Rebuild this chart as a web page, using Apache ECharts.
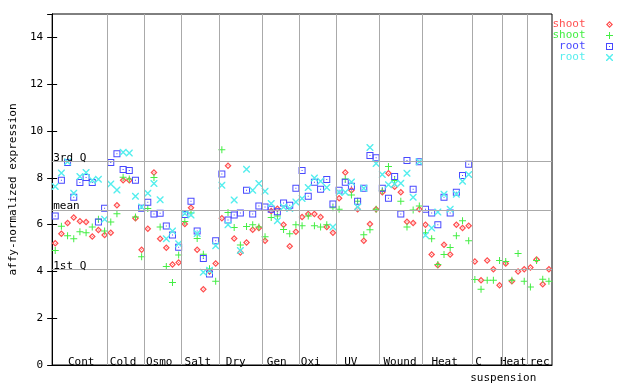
<!DOCTYPE html>
<html>
<head>
<meta charset="utf-8">
<script src="https://cdn.jsdelivr.net/npm/echarts@6/dist/echarts.min.js"></script>
<style>html,body{margin:0;padding:0;background:#fff}#c{width:640px;height:384px}</style>
</head>
<body>
<div id="c"></div>
<script>
// ---------- data ----------
const groupNames = ['Cont','Cold','Osmo','Salt','Dry','Gen','Oxi','UV','Wound','Heat','C','Heat','rec'];
const groupSizes = [9,6,6,6,7,6,6,7,7,8,5,4,4];
const subLabel = 'suspension';
const yTickValues = [0,2,4,6,8,10,12,14];
const refLineNames = ['3rd Q','mean','1st Q'];
const refLineValues = [8.69, 6.62, 4.09];
const seriesNames = ['shoot','shoot','root','root'];

const shootDiamond = [5.20,5.61,6.07,6.30,6.14,6.11,5.49,5.77,5.56,
 5.65,6.83,7.89,7.89,6.27,4.93,
 5.82,8.23,5.39,5.01,4.30,4.38,
 6.03,6.72,4.93,3.24,4.00,4.34,
 6.27,8.52,5.41,4.81,5.23,5.78,5.85,
 5.31,6.58,6.68,5.99,5.07,5.69,
 6.33,6.45,6.45,6.33,5.90,5.65,
 7.13,8.23,7.47,6.66,5.31,6.03,6.66,
 7.38,8.19,7.62,7.38,6.12,6.07,6.66,
 5.99,4.72,4.26,5.14,4.72,5.99,5.86,5.95,
 4.42,3.62,4.47,4.09,3.41,
 4.34,3.58,4.00,4.09,
 4.17,4.51,3.45,4.09];
const shootPlus = [4.89,5.93,5.52,5.39,5.69,5.65,5.90,6.23,5.73,
 6.11,6.46,8.02,7.95,6.33,4.63,
 6.69,8.01,5.90,4.21,3.53,4.70,
 6.13,6.50,5.41,4.73,4.11,3.58,
 9.20,6.52,5.88,5.13,5.92,5.99,5.90,
 5.48,6.30,6.37,5.79,5.61,5.99,
 5.95,6.37,5.95,5.90,5.99,6.72,
 6.66,7.95,7.26,7.00,5.57,5.78,6.66,
 7.45,8.48,7.88,7.00,5.90,6.62,6.79,
 5.65,5.40,4.30,4.72,5.02,5.52,6.16,5.31,
 3.65,3.24,3.62,3.62,4.47,
 4.42,3.62,4.76,3.58,
 3.33,4.47,3.66,3.58];
const rootSquare = [6.37,7.89,8.65,7.17,7.80,8.01,7.80,6.11,6.70,
 8.65,9.03,8.36,8.31,7.89,6.70,
 6.96,6.45,6.49,5.94,5.56,5.03,
 6.43,7.00,5.73,4.55,3.89,5.31,
 8.16,6.20,6.41,6.50,7.47,6.45,6.79,
 6.75,6.66,6.55,6.92,6.83,7.55,
 8.31,7.21,7.81,7.51,7.93,6.88,
 7.47,7.81,7.64,7.00,7.55,8.95,8.86,
 7.55,7.13,8.06,6.45,8.74,7.51,8.69,
 6.66,6.50,5.99,7.17,6.50,7.38,8.10,8.58,
 null,null,null,null,null,
 null,null,null,null,
 null,null,null,null];
const rootCross = [7.63,8.20,8.69,7.34,8.06,8.23,7.89,7.94,6.23,
 7.73,7.48,9.09,9.06,7.21,6.75,
 7.34,7.76,7.06,5.39,5.73,5.18,
 6.47,6.41,5.62,3.96,4.05,5.10,
 7.68,5.99,7.05,4.89,8.37,7.47,7.76,
 7.43,6.90,6.16,6.75,6.69,6.97,
 7.12,7.59,7.99,7.85,7.59,5.90,
 7.38,7.38,7.82,6.75,7.55,9.29,8.61,
 8.14,7.70,7.74,7.77,8.19,7.17,8.69,
 5.54,5.86,6.54,7.30,6.66,7.30,7.85,8.14,
 null,null,null,null,null,
 null,null,null,null,
 null,null,null,null];

// ---------- layout / style ----------
const labelPos = [4.7, 11.5, 17.35, 23.6, 29.76, 36.4, 41.9, 48.4, 56.36, 63.6, 69.1, 74.7, 79.0];
const subLabelPos = 73.1;
const FONT = 'DejaVu Sans Mono';
const colors = ['#ff5050', '#44ee44', '#4848ff', '#55eeee'];
const symbols = [
  'path://M4,0L8,4L4,8L0,4Z M4,2L2,4L4,6L6,4Z M3.5,3.5h1v1h-1z',
  'path://M3,0h1v7h-1z M0,3h7v1h-7z',
  'path://M0,0h7v7h-7z M1,1v5h5v-5z M3,3h1v1h-1z',
  'path://M0,0L1,0L7,6L7,7L6,7L0,1Z M6,0L7,0L7,1L1,7L0,7L0,6Z'
];

const total = groupSizes.reduce((a,b)=>a+b,0);
const boundaries = [];
{ let acc = 0; for (let k = 0; k < groupSizes.length - 1; k++) { acc += groupSizes[k]; boundaries.push(acc); } }
const labelMap = new Map(labelPos.map((p,k)=>[p, groupNames[k]]));

function toPoints(arr) {
  const out = [];
  arr.forEach((v,i)=>{ if (v !== null && v !== undefined) out.push([i + 0.5, v]); });
  return out;
}
const allSeries = [shootDiamond, shootPlus, rootSquare, rootCross];
const legendKeys = ['shoot', 'shoot ', 'root', 'root '];

const chart = echarts.init(document.getElementById('c'), null, {renderer:'canvas'});
const option = {
  animation: false,
  backgroundColor: '#fff',
  textStyle: {fontFamily: FONT},
  grid: {left: 44, right: 88, top: 14, bottom: 15, show: true, borderColor: '#000', borderWidth: 1, backgroundColor: 'transparent'},
  legend: {
    orient: 'vertical', right: 27, top: 19, align: 'right', padding: 0,
    itemWidth: 38, itemHeight: 7, itemGap: 0, selectedMode: false,
    formatter: n => n.trim(),
    textStyle: {fontFamily: FONT, fontSize: 11},
    data: legendKeys.map((n,k)=>({name: n, textStyle: {color: colors[k]}}))
  },
  xAxis: [
    {type:'value', min:0, max:total, position:'bottom',
     axisLine:{show:true, lineStyle:{color:'#000'}}, axisTick:{show:false}, axisLabel:{show:false}, splitLine:{show:false}},
    {type:'value', min:0, max:total, position:'bottom',
     axisLine:{show:false}, axisTick:{show:false}, splitLine:{show:false},
     axisLabel:{inside:true, margin:-3, customValues: labelPos, color:'#000', fontFamily:FONT, fontSize:11,
       formatter: v => labelMap.get(v) || ''}},
    {type:'value', min:0, max:total, position:'bottom',
     axisLine:{show:false}, axisTick:{show:false}, splitLine:{show:false},
     axisLabel:{inside:false, margin:8, customValues:[subLabelPos], color:'#000', fontFamily:FONT, fontSize:11,
       formatter: () => subLabel}}
  ],
  yAxis: [
    {type:'value', min:0, max:15, interval:2, name:'affy-normalized expression', nameLocation:'middle', nameGap:30,
     nameTextStyle:{fontFamily:FONT, fontSize:11, color:'#000'},
     axisLine:{show:true, lineStyle:{color:'#000'}}, axisTick:{show:true, inside:true, length:5, lineStyle:{color:'#000'}},
     axisLabel:{color:'#000', fontFamily:FONT, fontSize:11, margin:9, showMaxLabel:false,
       formatter: v => yTickValues.includes(v) ? String(v) : ''},
     splitLine:{show:false}},
    {type:'value', min:0, max:15, interval:2, position:'right',
     axisLine:{show:true, lineStyle:{color:'#000'}}, axisTick:{show:true, inside:true, length:5, lineStyle:{color:'#000'}},
     axisLabel:{show:false}, splitLine:{show:false}}
  ],
  series: [
    {type:'scatter', name:'_lines', data:[], z:1, silent:true,
     markLine:{silent:true, animation:false, symbol:['none','none'],
       lineStyle:{color:'#aaaaaa', type:'solid', width:1},
       emphasis:{disabled:true},
       label:{show:false},
       data: boundaries.map(b=>({xAxis:b})).concat(refLineValues.map((v,k)=>({
         yAxis:v,
         label:{show:true, position:'insideStartTop', distance:[1,-2], formatter: refLineNames[k], color:'#000',
           fontFamily:FONT, fontSize:11}
       })))}
    }
  ].concat(allSeries.map((arr,k)=>({
    type:'scatter', name: legendKeys[k], data: toPoints(arr), z:3,
    symbol: symbols[k], symbolSize: 7, symbolKeepAspect: true,
    itemStyle:{color: colors[k], opacity:1},
    emphasis:{disabled:true}
  })))
};
chart.setOption(option);
</script>
</body>
</html>
